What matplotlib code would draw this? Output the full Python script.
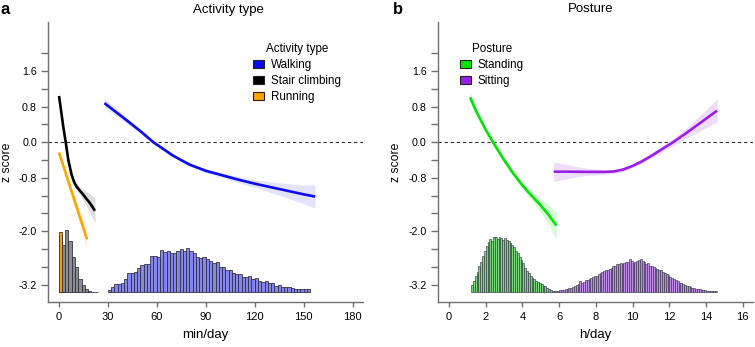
import numpy as np
import matplotlib
matplotlib.use("Agg")
import matplotlib.pyplot as plt
from matplotlib.patches import Patch

plt.rcParams['font.family'] = ['Liberation Sans', 'DejaVu Sans']

# ---------------- Panel a: activity type ----------------
walk_x = [28, 40, 50, 58, 70, 80, 90, 100, 110, 120, 130, 140, 150, 157]
walk_z = [0.88, 0.54, 0.25, 0.0, -0.30, -0.50, -0.64, -0.74, -0.84, -0.93, -1.01, -1.09, -1.17, -1.22]
walk_se = [0.10, 0.07, 0.05, 0.045, 0.04, 0.04, 0.045, 0.05, 0.07, 0.09, 0.12, 0.16, 0.21, 0.26]

stair_x = [0.2, 1.5, 2.8, 4.3, 5.9, 7.9, 9.5, 11, 13, 15.1, 17, 19.2, 22.2]
stair_z = [1.04, 0.70, 0.35, 0.0, -0.40, -0.73, -0.90, -1.0, -1.09, -1.18, -1.27, -1.37, -1.54]
stair_se = [0.12, 0.08, 0.05, 0.04, 0.04, 0.05, 0.06, 0.07, 0.09, 0.12, 0.16, 0.21, 0.28]

run_x = [0.2, 4, 8, 12, 17.3]
run_z = [-0.23, -0.66, -1.12, -1.57, -2.18]
run_se = [0.05, 0.04, 0.08, 0.14, 0.25]

# histograms (bar heights, arbitrary units)
walk_bin0, walk_binw = 30, 2
walk_hist = [7, 17, 24, 24, 29, 39, 59, 59, 61, 74, 83, 86, 86, 109, 109, 107,
             127, 121, 125, 117, 117, 123, 129, 123, 134, 125, 117, 105, 102, 105,
             101, 94, 87, 91, 77, 77, 67, 67, 57, 54, 55, 45, 45, 49, 41, 42,
             34, 32, 33, 27, 29, 19, 23, 17, 17, 15, 13, 11, 11, 11, 9, 9]
stair_bin0, stair_binw = 0, 2
stair_hist = [170, 142, 186, 155, 105, 75, 40, 22, 10, 5, 2, 1]
run_bin0, run_binw = 0, 2
run_hist = [181, 2]

# ---------------- Panel b: posture ----------------
stand_x = [1.15, 1.5, 2.0, 2.4, 3.0, 3.5, 4.0, 4.5, 5.0, 5.4, 5.85]
stand_z = [1.01, 0.68, 0.28, 0.0, -0.40, -0.70, -0.97, -1.20, -1.42, -1.62, -1.87]
stand_se = [0.12, 0.08, 0.05, 0.04, 0.04, 0.05, 0.07, 0.10, 0.15, 0.22, 0.30]

sit_x = [5.7, 6.5, 7.5, 8.5, 9.0, 9.5, 10.0, 10.5, 11.0, 11.5, 12.2, 13.0, 14.0, 14.6]
sit_z = [-0.66, -0.66, -0.665, -0.665, -0.655, -0.61, -0.53, -0.43, -0.31, -0.18, 0.0, 0.23, 0.53, 0.71]
sit_se = [0.22, 0.15, 0.08, 0.05, 0.04, 0.04, 0.04, 0.05, 0.05, 0.06, 0.08, 0.12, 0.20, 0.26]

stand_bin0, stand_binw = 1.2, 0.1
stand_hist = [22, 35, 48, 60, 78, 90, 108, 125, 138, 150, 160, 155, 165, 166, 160,
              167, 163, 158, 162, 158, 155, 148, 142, 135, 125, 118, 105, 97, 88, 72,
              65, 58, 50, 44, 40, 34, 30, 28, 24, 20, 18, 14, 10, 6, 4]
sit_bin0, sit_binw = 5.7, 0.1
sit_hist = [3, 4, 5, 6, 7, 8, 9, 11, 12, 14, 15, 18, 21, 24, 34, 28, 32, 36, 38, 40,
            43, 46, 48, 50, 55, 58, 60, 63, 66, 68, 70, 74, 78, 80, 84, 86, 87, 85, 89, 90,
            92, 99, 93, 88, 90, 94, 97, 101, 95, 90, 86, 88, 80, 78, 76, 74, 70, 68, 66, 62,
            58, 56, 52, 47, 43, 40, 36, 33, 29, 27, 24, 22, 20, 18, 16, 14, 12, 11, 10, 9,
            8, 7, 6, 5, 5, 4, 4, 3, 3]

y_ticks = [round(v, 1) for v in np.arange(-3.2, 2.01, 0.4)]
y_labeled = {1.6: "1.6", 0.8: "0.8", 0.0: "0.0", -0.8: "-0.8", -2.0: "-2.0", -3.2: "-3.2"}

HIST_BASE = -3.37
HIST_SCALE = 1 / 133.5

fig = plt.figure(figsize=(7.55, 3.47), dpi=100)
W, H = 755, 347

def make_ax(left_px, right_px):
    return fig.add_axes([left_px / W, (H - 302) / H, (right_px - left_px) / W, 280 / H])

axa = make_ax(48, 363)
axb = make_ax(437.7, 752.7)

def style(ax, xticks, xlim):
    ax.set_xlim(*xlim)
    ax.set_ylim(-3.589, 2.703)
    for s in ['top', 'right']:
        ax.spines[s].set_visible(False)
    for s in ['left', 'bottom']:
        ax.spines[s].set_color('#707070')
        ax.spines[s].set_linewidth(1.0)
    ax.set_yticks(y_ticks)
    ax.set_yticklabels([y_labeled.get(t, "") for t in y_ticks])
    ax.set_xticks(xticks)
    ax.tick_params(axis='y', length=5, width=1, color='#707070', labelsize=7.7, pad=3)
    ax.tick_params(axis='x', length=3.5, width=1, color='#707070', labelsize=8, pad=3.5)
    ax.axhline(0, color='#333333', lw=0.8, dashes=(3, 2.5), zorder=1)
    ax.set_ylabel("z score", fontsize=8.8)
    ax.yaxis.set_label_coords(-0.112, 0.5)

def hist(ax, b0, bw, vals, fc, lw=0.55):
    edges = b0 + bw * np.arange(len(vals))
    h = np.array(vals) * HIST_SCALE
    ax.bar(edges, h, width=bw, align='edge', bottom=HIST_BASE, color=fc,
           edgecolor='#2a2a3a', linewidth=lw, zorder=2)

def curve(ax, x, z, se, col, band):
    x = np.array(x); z = np.array(z); se = np.array(se)
    ax.fill_between(x, z - se, z + se, color=band, lw=0, zorder=3)
    ax.plot(x, z, color=col, lw=1.9, zorder=4, solid_capstyle='butt')

# panel a
style(axa, [0, 30, 60, 90, 120, 150, 180], (-6.55, 186.3))
hist(axa, walk_bin0, walk_binw, walk_hist, '#8585ee')
hist(axa, stair_bin0, stair_binw, stair_hist, '#8c8c8c')
hist(axa, run_bin0, run_binw, run_hist, '#f5a300')
curve(axa, walk_x, walk_z, walk_se, '#0b0bee', '#e3e3fb')
curve(axa, stair_x, stair_z, stair_se, '#000000', '#dedede')
curve(axa, run_x, run_z, run_se, '#ffa500', '#fff2dc')
axa.set_xlabel("min/day", fontsize=9.5)
axa.xaxis.set_label_coords(0.5, -0.095)

la = axa.legend(handles=[Patch(fc='#0b0bee', ec='#222222', lw=0.8, label='Walking'),
                         Patch(fc='#000000', ec='#222222', lw=0.8, label='Stair climbing'),
                         Patch(fc='#ffa500', ec='#222222', lw=0.8, label='Running')],
                title='Activity type', loc='upper left', bbox_to_anchor=(0.625, 0.955),
                frameon=False, fontsize=8.4, title_fontsize=8.4, handlelength=0.9,
                handleheight=0.75, handletextpad=0.6, labelspacing=0.35, borderpad=0.2)

# panel b
style(axb, [0, 2, 4, 6, 8, 10, 12, 14, 16], (-0.615, 16.54))
hist(axb, stand_bin0, stand_binw, stand_hist, '#7ad87a', lw=0.4)
hist(axb, sit_bin0, sit_binw, sit_hist, '#c08ee8', lw=0.4)
curve(axb, stand_x, stand_z, stand_se, '#00e600', '#d6fbd6')
curve(axb, sit_x, sit_z, sit_se, '#9a1ee6', '#eedcfb')
axb.set_xlabel("h/day", fontsize=9.5)
axb.xaxis.set_label_coords(0.5, -0.095)

lb = axb.legend(handles=[Patch(fc='#00e600', ec='#222222', lw=0.8, label='Standing'),
                         Patch(fc='#9a1ee6', ec='#222222', lw=0.8, label='Sitting')],
                title='Posture', loc='upper left', bbox_to_anchor=(0.045, 0.955),
                frameon=False, fontsize=8.4, title_fontsize=8.4, handlelength=0.9,
                handleheight=0.75, handletextpad=0.6, labelspacing=0.35, borderpad=0.2)

fig.text(228 / W, 1 - 10.5 / H, "Activity type", fontsize=9.5, ha='center', va='center')
fig.text(591 / W, 1 - 9.5 / H, "Posture", fontsize=9.5, ha='center', va='center')
fig.text(5 / W, 1 - 9.5 / H, "a", fontsize=12, fontweight='bold', ha='center', va='center')
fig.text(398 / W, 1 - 9.5 / H, "b", fontsize=12, fontweight='bold', ha='center', va='center')

fig.savefig("out.png", dpi=100)
